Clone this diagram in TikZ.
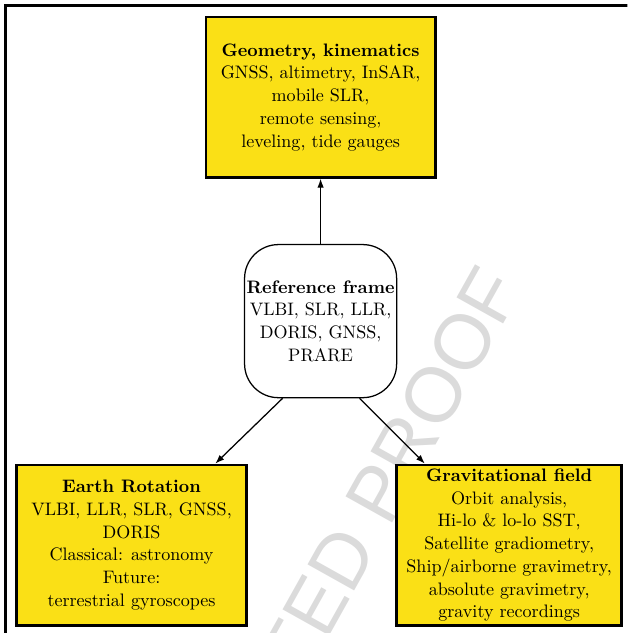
\documentclass[tikz,border=0pt]{standalone}
\usepackage{fontspec}
\newfontfamily\prooffont{Liberation Sans}
\usepackage{tikz}
\usetikzlibrary{arrows.meta}
\definecolor{boxyellow}{RGB}{250,224,22}
\tikzset{
fieldbox/.style={draw=black, line width=1.5pt, fill=boxyellow, align=center,
  minimum height=3.12cm, inner sep=2pt, font=\fontsize{10}{12.6}\selectfont},
framebox/.style={draw=black, line width=0.7pt, fill=white, rounded corners=0.66cm,
  align=center, minimum width=2.96cm, minimum height=2.98cm, inner sep=1pt,
  font=\fontsize{10}{12.6}\selectfont},
link/.style={line width=0.7pt, -{Latex[length=5pt,width=3.6pt]}},
proof/.style={text=black!14, inner sep=0pt, rotate=60.8,
  font=\prooffont\fontsize{43}{43}\selectfont}}

\begin{document}
\begin{tikzpicture}

                \useasboundingbox (-6.24,-6.07) rectangle (5.97,6.25);
                \clip (-6.24,-6.07) rectangle (5.97,6.25);

                % watermark and page frame
                \node[proof] (wm) at (-0.24,-5.80) {CORRECTED PROOF};
                \draw[line width=1.7pt] (-6.14,-6.5) -- (-6.14,6.15) -- (6.5,6.15);

                \node[fieldbox, minimum width=4.46cm] (geo) at (0,4.36)
                    {\textbf{Geometry, kinematics}\\GNSS, altimetry, InSAR,\\mobile SLR,\\remote sensing,\\leveling, tide gauges};
                \node[framebox] (ref) at (0,0)
                    {\textbf{Reference frame}\\VLBI, SLR, LLR,\\DORIS, GNSS,\\PRARE};
                \node[fieldbox, minimum width=4.48cm] (earth) at (-3.68,-4.36)
                    {\textbf{Earth Rotation}\\VLBI, LLR, SLR, GNSS,\\DORIS\\Classical: astronomy\\Future:\\terrestrial gyroscopes};
                \node[fieldbox, minimum width=4.38cm] (grav) at (3.67,-4.36)
                    {\textbf{Gravitational field}\\Orbit analysis,\\Hi-lo \& lo-lo SST,\\Satellite gradiometry,\\Ship/airborne gravimetry,\\absolute gravimetry,\\gravity recordings};

                \draw[link] (ref.north) -- (geo.south);
                \draw[link] ([xshift=-0.74cm]ref.south) -- ([xshift=1.63cm]earth.north);
                \draw[link] ([xshift=0.76cm]ref.south) -- ([xshift=-1.64cm]grav.north);

            \end{tikzpicture}
\end{document}
